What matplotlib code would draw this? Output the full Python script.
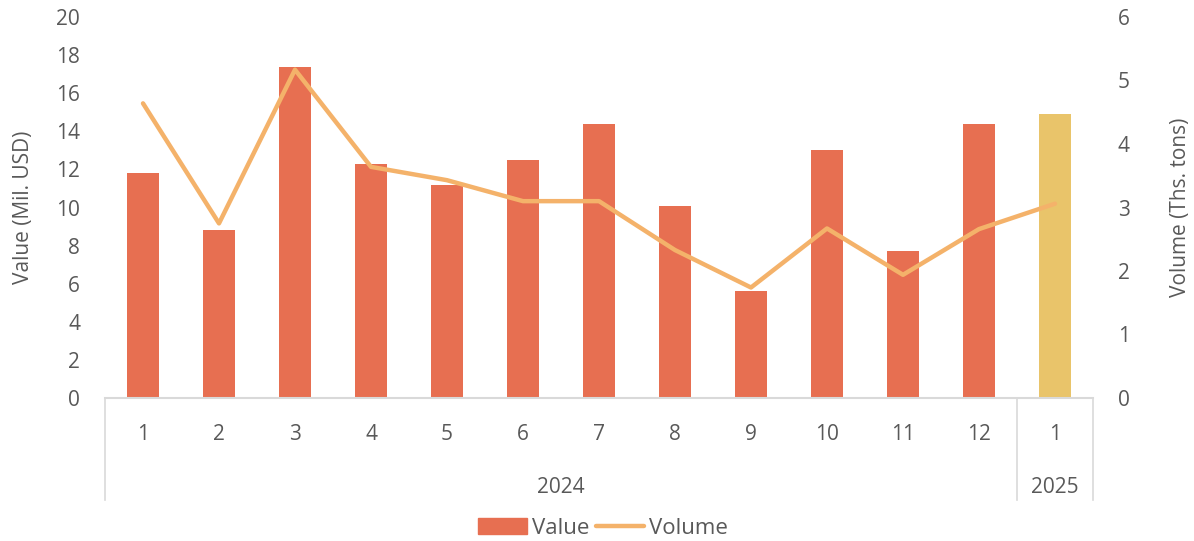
import matplotlib.pyplot as plt
from matplotlib.patches import Patch
from matplotlib.lines import Line2D
import matplotlib.transforms as mtransforms

months = ['1', '2', '3', '4', '5', '6', '7', '8', '9', '10', '11', '12', '1']
years = ['2024', '2025']
year_counts = [12, 1]
value = [11.8, 8.8, 17.4, 12.3, 11.2, 12.5, 14.4, 10.1, 5.6, 13.0, 7.7, 14.4, 14.9]
volume = [4.64, 2.75, 5.17, 3.64, 3.43, 3.10, 3.10, 2.33, 1.74, 2.67, 1.94, 2.66, 3.06]

bar_color = '#E76F51'
bar_color_new = '#E9C46A'
line_color = '#F4B26A'
text_color = '#595959'
axis_color = '#D9D9D9'

plt.rcParams['font.family'] = ['Open Sans', 'DejaVu Sans']
plt.rcParams['font.size'] = 15

fig = plt.figure(figsize=(11.94, 5.41), dpi=100)
ax = fig.add_axes([105 / 1194, 1 - 398 / 541, (1093 - 105) / 1194, (398 - 17) / 541])
ax2 = ax.twinx()

x = list(range(len(months)))
colors = [bar_color] * 12 + [bar_color_new]
ax.bar(x, value, width=0.42, color=colors, zorder=2)
ax2.plot(x, volume, color=line_color, lw=3.2, solid_capstyle='round',
         solid_joinstyle='round', zorder=3)

ax.set_xlim(-0.5, len(months) - 0.5)
ax.set_ylim(0, 20)
ax.set_yticks(range(0, 21, 2))
ax2.set_ylim(0, 6)
ax2.set_yticks(range(0, 7))

for a in (ax, ax2):
    for s in a.spines.values():
        s.set_visible(False)
    a.tick_params(length=0, colors=text_color, labelsize=15)
ax.tick_params(axis='y', pad=18)
ax2.tick_params(axis='y', pad=18)
ax.set_xticks([])

ax.set_ylabel('Value (Mil. USD)', color=text_color, fontsize=15, labelpad=16)
ax2.set_ylabel('Volume (Ths. tons)', color=text_color, fontsize=15, labelpad=29)

# category axis with year grouping
trans = mtransforms.blended_transform_factory(ax.transData, ax.transAxes)
ax.plot([-0.5, len(months) - 0.5], [0, 0], transform=trans, color=axis_color,
        lw=1.5, clip_on=False, zorder=4)
for i, m in enumerate(months):
    ax.text(i, -0.097, m, transform=trans, ha='center', va='center',
            color=text_color, fontsize=15)
start = -0.5
bounds = [start]
for yr, n in zip(years, year_counts):
    ax.text(start + n / 2, -0.234, yr, transform=trans, ha='center', va='center',
            color=text_color, fontsize=15)
    start += n
    bounds.append(start)
for b in bounds:
    ax.plot([b, b], [0, -0.268], transform=trans, color=axis_color, lw=1.2,
            clip_on=False)

handles = [Patch(color=bar_color, label='Value'),
           Line2D([], [], color=line_color, lw=3.2, solid_capstyle='round', label='Volume')]
leg = fig.legend(handles=handles, loc='center', bbox_to_anchor=(0.505, 1 - 528 / 541),
                 ncol=2, frameon=False, fontsize=16, handlelength=2.2,
                 handletextpad=0.2, columnspacing=0.3)
for t in leg.get_texts():
    t.set_color(text_color)

fig.savefig('out.png', dpi=100)
